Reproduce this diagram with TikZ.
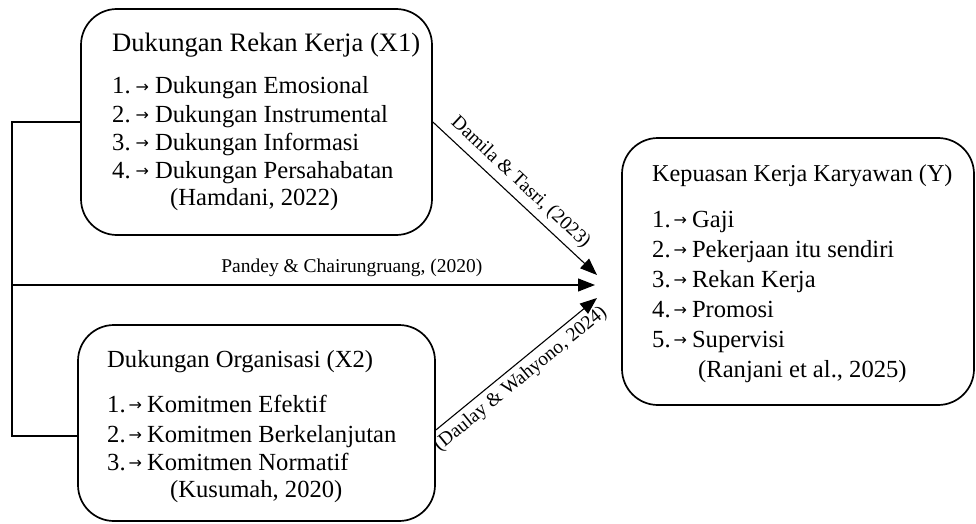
\documentclass[tikz,border=0pt]{standalone}
\usepackage{fontspec}
\setmainfont{Liberation Serif}
\newfontfamily\arrowfnt{DejaVu Sans}
\usetikzlibrary{arrows.meta}
\newcommand{\sar}{\raisebox{1.5pt}{\arrowfnt\fontsize{16}{16}\selectfont →}}
\newcommand{\wide}[1]{#1.\hspace{5pt}\sar\hspace{6pt}}
\newcommand{\tight}[1]{#1.\hspace{3pt}\sar\hspace{5pt}}
\tikzset{
  box/.style={draw, line width=1.7pt, rounded corners=36pt, inner sep=0pt},
  txt/.style={anchor=base west, inner sep=0pt, font=\fontsize{24.6}{28}\selectfont},
  lbl/.style={font=\fontsize{19.5}{22}\selectfont, inner sep=0pt},
  conn/.style={line width=1.1pt},
  arr/.style={conn, -{Triangle[length=17pt,width=13pt]}}
}
\begin{document}
\begin{tikzpicture}[x=1pt,y=-1pt]
\useasboundingbox (0,0) rectangle (976,524);
% boxes
\node[box, minimum width=351pt, minimum height=226pt] (X1) at (256.5,122) {};
\node[box, minimum width=357pt, minimum height=196pt] (X2) at (256.5,423) {};
\node[box, minimum width=352pt, minimum height=267pt] (Y) at (798,271.5) {};
% X1 text
\node[txt, font=\fontsize{26.6}{28}\selectfont] (x1t) at (112,52) {Dukungan Rekan Kerja (X1)};
\node[txt] (x1a) at (112,94) {\wide{1}Dukungan Emosional};
\node[txt] (x1b) at (112,122) {\wide{2}Dukungan Instrumental};
\node[txt] (x1c) at (112,150) {\wide{3}Dukungan Informasi};
\node[txt] (x1d) at (112,178) {\wide{4}Dukungan Persahabatan};
\node[txt] (x1e) at (170,205) {(Hamdani, 2022)};
% X2 text
\node[txt] (x2t) at (107,367) {Dukungan Organisasi (X2)};
\node[txt] (x2a) at (107,412) {\tight{1}Komitmen Efektif};
\node[txt] (x2b) at (107,442) {\tight{2}Komitmen Berkelanjutan};
\node[txt] (x2c) at (107,470) {\tight{3}Komitmen Normatif};
\node[txt] (x2d) at (170,497) {(Kusumah, 2020)};
% Y text
\node[txt, font=\fontsize{24.2}{28}\selectfont] (yt) at (652,181) {Kepuasan Kerja Karyawan (Y)};
\node[txt] (ya) at (652,227) {\tight{1}Gaji};
\node[txt] (yb) at (652,257) {\tight{2}Pekerjaan itu sendiri};
\node[txt] (yc) at (652,287) {\tight{3}Rekan Kerja};
\node[txt] (yd) at (652,317) {\tight{4}Promosi};
\node[txt] (ye) at (652,347) {\tight{5}Supervisi};
\node[txt] (yf) at (698,377) {(Ranjani et al., 2025)};
% coordinates
\coordinate (bt) at (12,122);
\coordinate (bm) at (12,285);
\coordinate (bb) at (12,436);
\coordinate (tA) at (597,275);
\coordinate (tB) at (595,285);
\coordinate (tC) at (597,298);
% bracket
\draw[conn] (X1.west) -- (bt) -- (bb) -- (X2.west |- bb);
% arrows
\draw[arr] (X1.east) -- node[lbl, sloped, above, pos=0.47, inner sep=6pt] (la) {Damila \& Tasri, (2023)} (tA);
\draw[arr] (bm) -- node[lbl, pos=0.583, anchor=base, yshift=13pt] (lb) {Pandey \& Chairungruang, (2020)} (tB);
\draw[arr] ([yshift=-7pt]X2.east) -- node[lbl, sloped, below, pos=0.47, inner sep=5pt] (lc) {(Daulay \& Wahyono, 2024)} (tC);
\end{tikzpicture}
\end{document}
